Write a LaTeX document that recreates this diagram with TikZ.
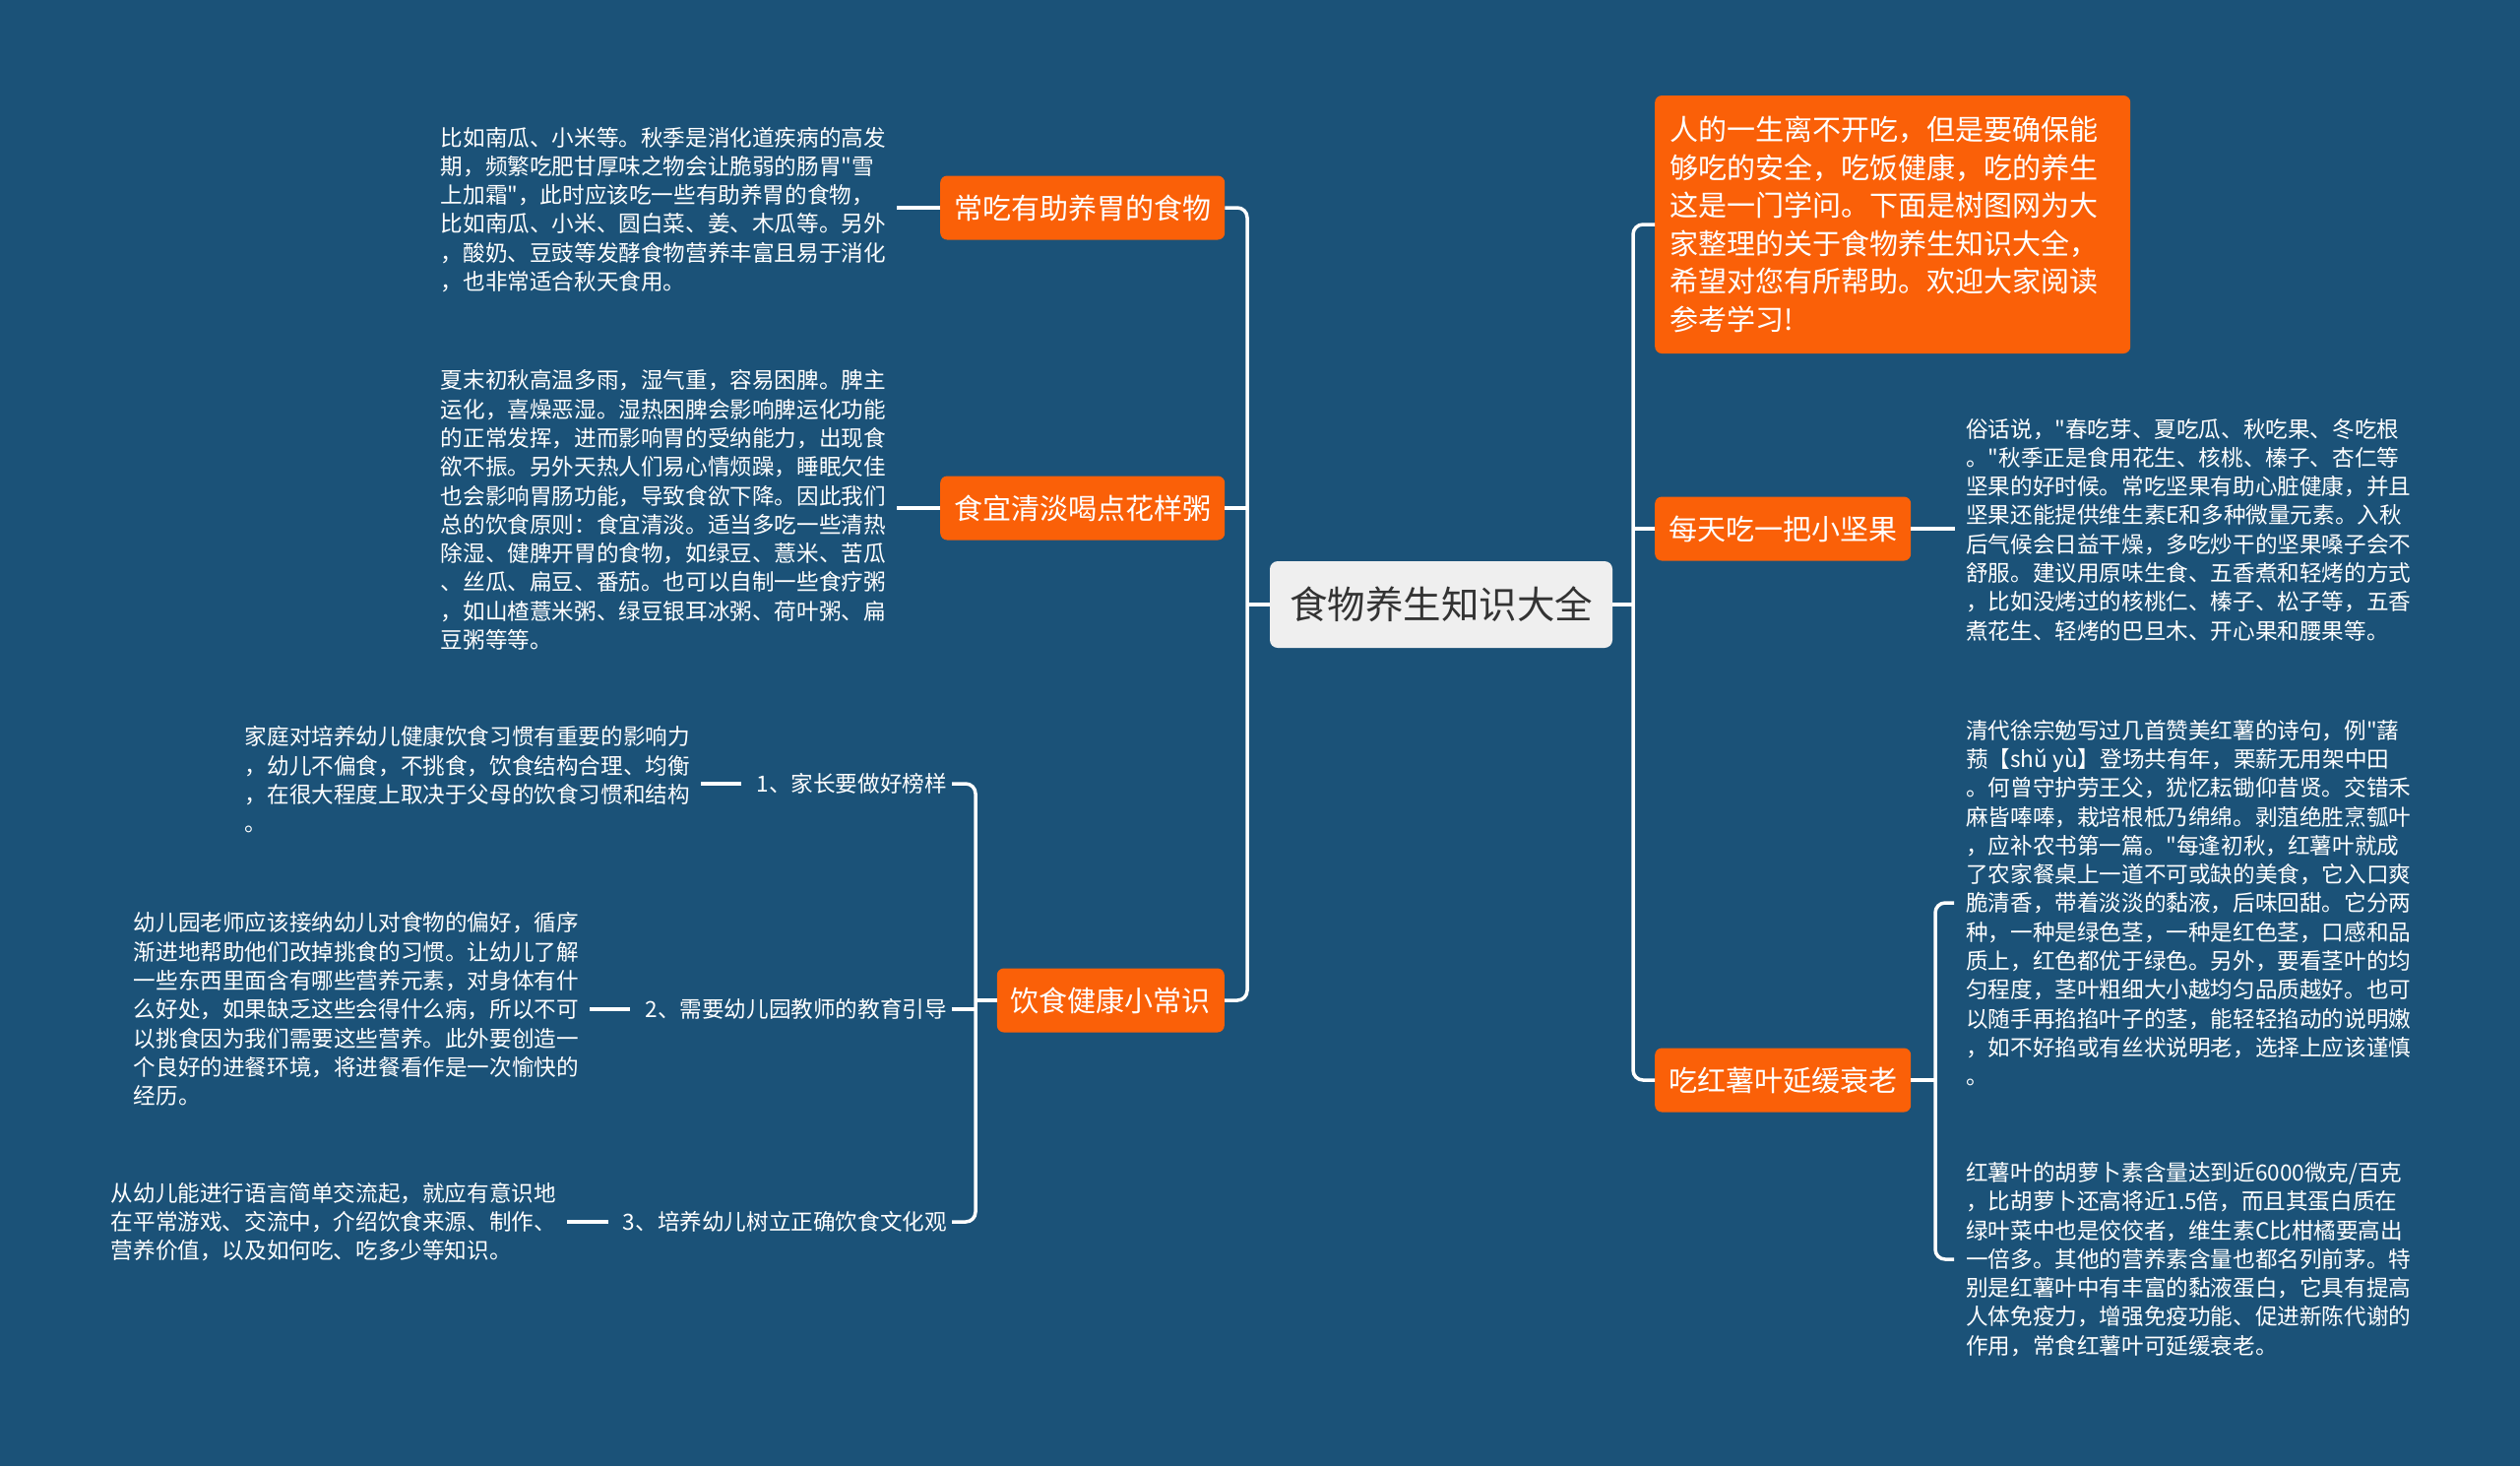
\documentclass[tikz,border=0pt]{standalone}
\usepackage{fontspec}
\setmainfont{Noto Sans CJK SC}[Ligatures=TeXOff]
\definecolor{bg}{HTML}{1B5278}
\definecolor{org}{HTML}{FA6008}
\definecolor{cen}{HTML}{EFEFEF}
\definecolor{ctext}{HTML}{333333}
\newcommand\sq{{\char34\relax}}
\begin{document}
\begin{tikzpicture}[x=1pt,y=-1pt,
  link/.style={draw=white, line width=3.5pt, rounded corners=10pt},
  para/.style={text=white, align=left, inner sep=0pt, font=\fontsize{22.6}{29.3}\selectfont},
  head/.style={fill=org, text=white, rounded corners=7pt, minimum height=65pt, inner xsep=14pt, inner ysep=0pt, font=\fontsize{29}{35}\selectfont},
  sublabel/.style={text=white, inner sep=0pt, font=\fontsize{22.6}{29.3}\selectfont},
]
\fill[bg] (0,0) rectangle (2560,1489);
\useasboundingbox (0,0) rectangle (2560,1489);

% trunk coordinates
\coordinate (ltrunk) at (1267,0);
\coordinate (strunk) at (991,0);
\coordinate (rtrunk) at (1659,0);
\coordinate (rs) at (1966,0);

% root
\node[fill=cen, text=ctext, rounded corners=8pt, minimum width=348pt, minimum height=88pt, inner sep=0pt, font=\fontsize{38.5}{46}\selectfont] (root) at (1464,614) {食物养生知识大全};

% left heads
\node[head, anchor=west] (l1) at (955,211) {常吃有助养胃的食物};
\node[head, anchor=west] (l2) at (955,516) {食宜清淡喝点花样粥};
\node[head, anchor=east] (l3) at (1244,1016) {饮食健康小常识};

% right heads
\node[head, anchor=west, text width=453pt, align=left, inner xsep=15pt, minimum height=262pt, font=\fontsize{29}{38.6}\selectfont] (r1) at (1681,228) {人的一生离不开吃，但是要确保能\\够吃的安全，吃饭健康，吃的养生\\这是一门学问。下面是树图网为大\\家整理的关于食物养生知识大全，\\希望对您有所帮助。欢迎大家阅读\\参考学习!};
\node[head, anchor=west] (r2) at (1681,537) {每天吃一把小坚果};
\node[head, anchor=west] (r3) at (1681,1097) {吃红薯叶延缓衰老};

% left paragraphs
\node[para, anchor=east] (pl1) at (900,213) {比如南瓜、小米等。秋季是消化道疾病的高发\\期，频繁吃肥甘厚味之物会让脆弱的肠胃\sq 雪\\上加霜\sq，此时应该吃一些有助养胃的食物，\\比如南瓜、小米、圆白菜、姜、木瓜等。另外\\，酸奶、豆豉等发酵食物营养丰富且易于消化\\，也非常适合秋天食用。};
\node[para, anchor=east] (pl2) at (900,518) {夏末初秋高温多雨，湿气重，容易困脾。脾主\\运化，喜燥恶湿。湿热困脾会影响脾运化功能\\的正常发挥，进而影响胃的受纳能力，出现食\\欲不振。另外天热人们易心情烦躁，睡眠欠佳\\也会影响胃肠功能，导致食欲下降。因此我们\\总的饮食原则：食宜清淡。适当多吃一些清热\\除湿、健脾开胃的食物，如绿豆、薏米、苦瓜\\、丝瓜、扁豆、番茄。也可以自制一些食疗粥\\，如山楂薏米粥、绿豆银耳冰粥、荷叶粥、扁\\豆粥等等。};

% sub labels
\node[sublabel, anchor=east] (s1) at (962,796) {1、家长要做好榜样};
\node[sublabel, anchor=east] (s2) at (962,1025) {2、需要幼儿园教师的教育引导};
\node[sublabel, anchor=east] (s3) at (962,1241) {3、培养幼儿树立正确饮食文化观};

% sub paragraphs
\node[para, anchor=east] (ps1) at (701,792) {家庭对培养幼儿健康饮食习惯有重要的影响力\\，幼儿不偏食，不挑食，饮食结构合理、均衡\\，在很大程度上取决于父母的饮食习惯和结构\\。};
\node[para, anchor=east] (ps2) at (588,1025) {幼儿园老师应该接纳幼儿对食物的偏好，循序\\渐进地帮助他们改掉挑食的习惯。让幼儿了解\\一些东西里面含有哪些营养元素，对身体有什\\么好处，如果缺乏这些会得什么病，所以不可\\以挑食因为我们需要这些营养。此外要创造一\\个良好的进餐环境，将进餐看作是一次愉快的\\经历。};
\node[para, anchor=east] (ps3) at (565,1241) {从幼儿能进行语言简单交流起，就应有意识地\\在平常游戏、交流中，介绍饮食来源、制作、\\营养价值，以及如何吃、吃多少等知识。};

% right paragraphs
\node[para, anchor=west] (pr2) at (1997,538) {俗话说，\sq 春吃芽、夏吃瓜、秋吃果、冬吃根\\。\sq 秋季正是食用花生、核桃、榛子、杏仁等\\坚果的好时候。常吃坚果有助心脏健康，并且\\坚果还能提供维生素E和多种微量元素。入秋\\后气候会日益干燥，多吃炒干的坚果嗓子会不\\舒服。建议用原味生食、五香煮和轻烤的方式\\，比如没烤过的核桃仁、榛子、松子等，五香\\煮花生、轻烤的巴旦木、开心果和腰果等。};
\node[para, anchor=west] (pr3a) at (1997,917) {清代徐宗勉写过几首赞美红薯的诗句，例\sq 藷\\蓣【shǔ yù】登场共有年，栗薪无用架中田\\。何曾守护劳王父，犹忆耘锄仰昔贤。交错禾\\麻皆唪唪，栽培根柢乃绵绵。剥菹绝胜烹瓠叶\\，应补农书第一篇。\sq 每逢初秋，红薯叶就成\\了农家餐桌上一道不可或缺的美食，它入口爽\\脆清香，带着淡淡的黏液，后味回甜。它分两\\种，一种是绿色茎，一种是红色茎，口感和品\\质上，红色都优于绿色。另外，要看茎叶的均\\匀程度，茎叶粗细大小越均匀品质越好。也可\\以随手再掐掐叶子的茎，能轻轻掐动的说明嫩\\，如不好掐或有丝状说明老，选择上应该谨慎\\。};
\node[para, anchor=west] (pr3b) at (1997,1279) {红薯叶的胡萝卜素含量达到近6000微克/百克\\，比胡萝卜还高将近1.5倍，而且其蛋白质在\\绿叶菜中也是佼佼者，维生素C比柑橘要高出\\一倍多。其他的营养素含量也都名列前茅。特\\别是红薯叶中有丰富的黏液蛋白，它具有提高\\人体免疫力，增强免疫功能、促进新陈代谢的\\作用，常食红薯叶可延缓衰老。};

% left connectors
\draw[link] (l1.east) -- (l1.east -| ltrunk) -- (l3.east -| ltrunk) -- (l3.east);
\draw[link] (l2.east) -- (l2.east -| ltrunk);
\draw[link] (root.west) -- (root.west -| ltrunk);
\draw[link] ([xshift=11pt]l1.west -| pl1.east) -- (l1.west);
\draw[link] ([xshift=11pt]l2.west -| pl2.east) -- (l2.west);

% sub trunk
\draw[link] ([xshift=5pt]s1.east) -- (s1.east -| strunk) -- (s3.east -| strunk) -- ([xshift=5pt]s3.east);
\draw[link] ([xshift=5pt]s2.east) -- (s2.east -| strunk);
\draw[link] (l3.west) -- (l3.west -| strunk);
\draw[link] ([xshift=11pt]s1.west -| ps1.east) -- ([xshift=-15pt]s1.west);
\draw[link] ([xshift=11pt]s2.west -| ps2.east) -- ([xshift=-15pt]s2.west);
\draw[link] ([xshift=11pt]s3.west -| ps3.east) -- ([xshift=-15pt]s3.west);

% right connectors
\draw[link] (r1.west) -- (r1.west -| rtrunk) -- (r3.west -| rtrunk) -- (r3.west);
\draw[link] (root.east) -- (root.east -| rtrunk);
\draw[link] (r2.west) -- (r2.west -| rtrunk);
\draw[link] (r2.east) -- ([xshift=-11pt]r2.east -| pr2.west);
\draw[link] (r3.east) -- (r3.east -| rs);
\draw[link] ([xshift=-12pt]pr3a.west) -- (pr3a.west -| rs) -- (pr3b.west -| rs) -- ([xshift=-12pt]pr3b.west);
\end{tikzpicture}
\end{document}
